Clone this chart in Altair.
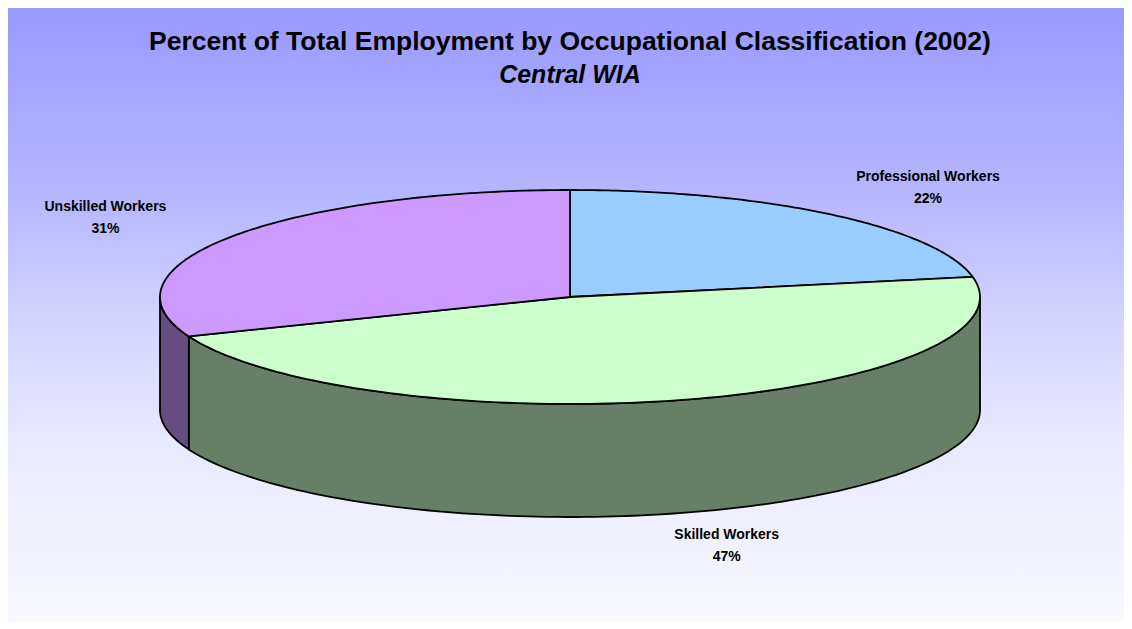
import altair as alt
import pandas as pd

# ---- data ----
categories = ["Professional Workers", "Skilled Workers", "Unskilled Workers"]
shares = [22, 47, 31]
title_text = ["Percent of Total Employment by Occupational Classification (2002)"]
subtitle_text = ["Central WIA"]

# ---- styles ----
top_colors = ["#99CCFF", "#CCFFCC", "#CC99FF"]
wall_colors = ["#4C6680", "#667F66", "#664D80"]

W, H = 1116, 613
CX, CY, RX, RY = 562, 289, 410, 107
DEPTH = 113 / 107
N = 120

df = pd.DataFrame({"category": categories, "share": shares, "idx": list(range(len(categories)))})

xs = alt.Scale(domain=[-CX / RX, (W - CX) / RX], nice=False, zero=False)
ys = alt.Scale(domain=[(CY - H) / RY, CY / RY], nice=False, zero=False)
X = alt.X("u:Q", scale=xs, axis=None)
Y = alt.Y("v:Q", scale=ys, axis=None)

base = (
    alt.Chart(df)
    .transform_window(cum="sum(share)", sort=[alt.SortField("idx")])
    .transform_joinaggregate(total="sum(share)")
    .transform_calculate(
        a0="2*PI*(datum.cum-datum.share)/datum.total",
        a1="2*PI*datum.cum/datum.total",
    )
)

# background gradient with frame
bg = alt.Chart(pd.DataFrame({"a": [0]})).mark_rect(
    fill=alt.Gradient(
        gradient="linear",
        stops=[
            alt.GradientStop(color="#9999FF", offset=0),
            alt.GradientStop(color="#B6B6FF", offset=0.3),
            alt.GradientStop(color="#D4D4FF", offset=0.5),
            alt.GradientStop(color="#EAEAFF", offset=0.7),
            alt.GradientStop(color="#FAFAFF", offset=1),
        ],
        x1=0, x2=0, y1=0, y2=1,
    ),
    stroke="black",
    strokeWidth=1.5,
).encode(x=alt.value(-1), x2=alt.value(W + 20), y=alt.value(-2), y2=alt.value(H + 20))

# side walls (front half only), drawn as closed polygons
wall = (
    base.transform_calculate(w0="max(datum.a0, PI/2)", w1="min(datum.a1, 3*PI/2)")
    .transform_filter("datum.w1 > datum.w0")
    .transform_calculate(k=f"sequence(0, {2 * N + 1})")
    .transform_flatten(["k"])
    .transform_calculate(
        t=f"datum.k < {N} ? datum.w0 + (datum.w1-datum.w0)*datum.k/({N}-1) : "
          f"(datum.k < {2 * N} ? datum.w1 - (datum.w1-datum.w0)*(datum.k-{N})/({N}-1) : datum.w0)",
        u="sin(datum.t)",
        v=f"(datum.k < {N} || datum.k == {2 * N}) ? cos(datum.t) : cos(datum.t) - {DEPTH}",
    )
    .mark_line(stroke="black", strokeWidth=1.8, strokeJoin="round")
    .encode(
        x=X,
        y=Y,
        order=alt.Order("k:Q"),
        detail="category:N",
        fill=alt.Fill("category:N", scale=alt.Scale(domain=categories, range=wall_colors), legend=None),
    )
)

# top faces
top = (
    base.transform_calculate(k=f"sequence(0, {N + 2})")
    .transform_flatten(["k"])
    .transform_calculate(
        t=f"datum.a0 + (datum.a1-datum.a0)*(datum.k-1)/({N}-1)",
        u=f"(datum.k==0 || datum.k=={N + 1}) ? 0 : sin(datum.t)",
        v=f"(datum.k==0 || datum.k=={N + 1}) ? 0 : cos(datum.t)",
    )
    .mark_line(stroke="black", strokeWidth=1.8, strokeJoin="round")
    .encode(
        x=X,
        y=Y,
        order=alt.Order("k:Q"),
        detail="category:N",
        fill=alt.Fill("category:N", scale=alt.Scale(domain=categories, range=top_colors), legend=None),
    )
)

labels = base.transform_calculate(
    m="(datum.a0+datum.a1)/2",
    u="1.37*sin(datum.m)",
    v=f"1.32*cos(datum.m) - (cos(datum.m) < 0 ? {DEPTH} : 0)",
    pct="datum.share + '%'",
)
font = "Liberation Sans"
name_txt = labels.mark_text(font=font, fontWeight="bold", fontSize=14, dy=-11, color="black").encode(
    x=X, y=Y, text="category:N"
)
pct_txt = labels.mark_text(font=font, fontWeight="bold", fontSize=14, dy=11, color="black").encode(
    x=X, y=Y, text="pct:N"
)

title = alt.Chart(pd.DataFrame({"t": title_text})).mark_text(
    font=font, fontWeight="bold", fontSize=26.5, color="black"
).encode(x=alt.value(CX), y=alt.value(34), text="t:N")
subtitle = alt.Chart(pd.DataFrame({"t": subtitle_text})).mark_text(
    font=font, fontWeight="bold", fontStyle="italic", fontSize=25, color="black"
).encode(x=alt.value(CX), y=alt.value(67), text="t:N")

chart = (
    alt.layer(bg, wall, top, name_txt, pct_txt, title, subtitle)
    .resolve_scale(fill="independent")
    .properties(
        width=W,
        height=H,
        padding=0,
        autosize=alt.AutoSizeParams(type="none"),
        background="white",
    )
    .configure_view(stroke=None)
)

chart.save("out.html", embed_options={"renderer": "svg", "actions": False})
